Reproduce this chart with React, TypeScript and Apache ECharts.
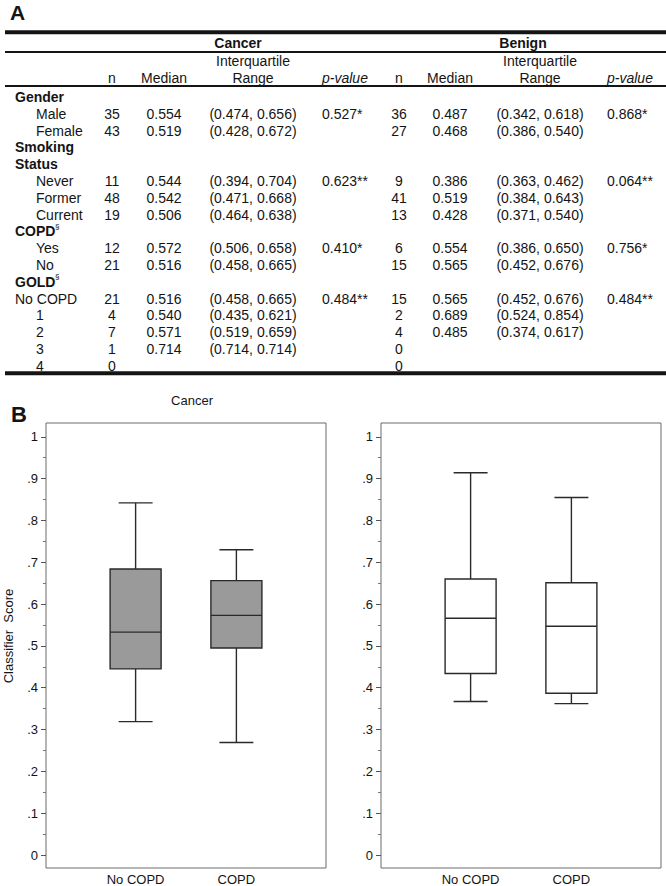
import React, { useEffect, useRef } from 'react';
import * as echarts from 'echarts';

// ---------- Table data (panel A) ----------
const rowLabels = ['Gender', 'Male', 'Female', 'Smoking', 'Status', 'Never', 'Former', 'Current', 'COPD', 'Yes', 'No', 'GOLD', 'No COPD', '1', '2', '3', '4'];
const rowKinds = ['head', 'sub', 'sub', 'head', 'head', 'sub', 'sub', 'sub', 'headsup', 'sub', 'sub', 'headsup', 'plain', 'sub', 'sub', 'sub', 'sub'];

const cancerN = ['', '35', '43', '', '', '11', '48', '19', '', '12', '21', '', '21', '4', '7', '1', '0'];
const cancerMedian = ['', '0.554', '0.519', '', '', '0.544', '0.542', '0.506', '', '0.572', '0.516', '', '0.516', '0.540', '0.571', '0.714', ''];
const cancerIQR = ['', '(0.474, 0.656)', '(0.428, 0.672)', '', '', '(0.394, 0.704)', '(0.471, 0.668)', '(0.464, 0.638)', '', '(0.506, 0.658)', '(0.458, 0.665)', '', '(0.458, 0.665)', '(0.435, 0.621)', '(0.519, 0.659)', '(0.714, 0.714)', ''];
const cancerP = ['', '0.527*', '', '', '', '0.623**', '', '', '', '0.410*', '', '', '0.484**', '', '', '', ''];

const benignN = ['', '36', '27', '', '', '9', '41', '13', '', '6', '15', '', '15', '2', '4', '0', '0'];
const benignMedian = ['', '0.487', '0.468', '', '', '0.386', '0.519', '0.428', '', '0.554', '0.565', '', '0.565', '0.689', '0.485', '', ''];
const benignIQR = ['', '(0.342, 0.618)', '(0.386, 0.540)', '', '', '(0.363, 0.462)', '(0.384, 0.643)', '(0.371, 0.540)', '', '(0.386, 0.650)', '(0.452, 0.676)', '', '(0.452, 0.676)', '(0.524, 0.854)', '(0.374, 0.617)', '', ''];
const benignP = ['', '0.868*', '', '', '', '0.064**', '', '', '', '0.756*', '', '', '0.484**', '', '', '', ''];

// ---------- Box plot data (panel B): [low, q1, median, q3, high] ----------
const boxCategories = ['No COPD', 'COPD'];
const cancerBoxes = [
  [0.319, 0.445, 0.533, 0.684, 0.842],
  [0.269, 0.495, 0.573, 0.656, 0.730],
];
const benignBoxes = [
  [0.367, 0.434, 0.566, 0.660, 0.914],
  [0.362, 0.387, 0.547, 0.651, 0.855],
];
const yMajor = [0, 0.1, 0.2, 0.3, 0.4, 0.5, 0.6, 0.7, 0.8, 0.9, 1];
const yMinor = [0.05, 0.15, 0.25, 0.35, 0.45, 0.55, 0.65, 0.75, 0.85, 0.95];

const FONT = "'Liberation Sans', Arial, Helvetica, sans-serif";
const INK = '#141414';

function txt(text: string, x: number, y: number, opts: any = {}) {
  return {
    type: 'text',
    x,
    y,
    silent: true,
    style: {
      text,
      fill: INK,
      fontFamily: FONT,
      fontSize: opts.fontSize ?? 14,
      fontWeight: opts.fontWeight ?? 'normal',
      fontStyle: opts.fontStyle ?? 'normal',
      textAlign: opts.align ?? 'left',
      textVerticalAlign: 'middle',
    },
    rotation: opts.rotation ?? 0,
  };
}

function hline(y: number, lw: number) {
  return { type: 'line', silent: true, shape: { x1: 5, y1: y, x2: 666, y2: y }, style: { stroke: INK, lineWidth: lw } };
}

function buildTable() {
  const els: any[] = [];
  els.push(txt('A', 10, 12, { fontSize: 21, fontWeight: 'bold' }));
  els.push(hline(32.3, 4));
  els.push(hline(52, 2));
  els.push(hline(86, 2));
  els.push(hline(373.3, 4));

  const cols = [
    { title: 'Cancer', titleX: 238, nX: 112, medX: 164, iqrX: 253, pX: 322, n: cancerN, med: cancerMedian, iqr: cancerIQR, p: cancerP },
    { title: 'Benign', titleX: 523, nX: 399, medX: 450, iqrX: 540, pX: 607, n: benignN, med: benignMedian, iqr: benignIQR, p: benignP },
  ];
  cols.forEach((c) => {
    els.push(txt(c.title, c.titleX, 43, { fontWeight: 'bold', align: 'center' }));
    els.push(txt('Interquartile', c.iqrX, 61, { align: 'center' }));
    els.push(txt('Range', c.iqrX, 78, { align: 'center' }));
    els.push(txt('n', c.nX, 78, { align: 'center' }));
    els.push(txt('Median', c.medX, 78, { align: 'center' }));
    els.push(txt('p-value', c.pX, 78, { fontStyle: 'italic' }));
  });

  const rowTop = 97;
  const rowH = 16.8;
  rowLabels.forEach((label, i) => {
    const y = rowTop + i * rowH;
    const kind = rowKinds[i];
    const bold = kind === 'head' || kind === 'headsup';
    const x = kind === 'sub' ? 36 : 15;
    els.push(txt(label, x, y, { fontWeight: bold ? 'bold' : 'normal' }));
    if (kind === 'headsup') {
      els.push(txt('§', 55, y - 5, { fontSize: 8 }));
    }
    cols.forEach((c) => {
      if (c.n[i]) els.push(txt(c.n[i], c.nX, y, { align: 'center' }));
      if (c.med[i]) els.push(txt(c.med[i], c.medX, y, { align: 'center' }));
      if (c.iqr[i]) els.push(txt(c.iqr[i], c.iqrX, y, { align: 'center' }));
      if (c.p[i]) els.push(txt(c.p[i], c.pX, y));
    });
  });
  return els;
}

const BOX_W = 0.506;
const CAP_W = 0.337;

function renderBox(fill: string) {
  return (params: any, api: any) => {
    const x = api.value(0);
    const lo = api.coord([x, api.value(1)]);
    const q1 = api.coord([x, api.value(2)]);
    const md = api.coord([x, api.value(3)]);
    const q3 = api.coord([x, api.value(4)]);
    const hi = api.coord([x, api.value(5)]);
    const bw = api.size([BOX_W, 0])[0];
    const cw = api.size([CAP_W, 0])[0];
    const cx = lo[0];
    const st = { stroke: '#2a2a2a', lineWidth: 1.4, fill: 'none' };
    return {
      type: 'group',
      children: [
        { type: 'line', shape: { x1: cx, y1: hi[1], x2: cx, y2: q3[1] }, style: st },
        { type: 'line', shape: { x1: cx, y1: q1[1], x2: cx, y2: lo[1] }, style: st },
        { type: 'line', shape: { x1: cx - cw / 2, y1: hi[1], x2: cx + cw / 2, y2: hi[1] }, style: st },
        { type: 'line', shape: { x1: cx - cw / 2, y1: lo[1], x2: cx + cw / 2, y2: lo[1] }, style: st },
        { type: 'rect', shape: { x: cx - bw / 2, y: q3[1], width: bw, height: q1[1] - q3[1] }, style: { stroke: '#2a2a2a', lineWidth: 1.4, fill } },
        { type: 'line', shape: { x1: cx - bw / 2, y1: md[1], x2: cx + bw / 2, y2: md[1] }, style: st },
      ],
    };
  };
}

function yFmt(v: number) {
  if (v === 0) return '0';
  if (v === 1) return '1';
  return v.toFixed(1).slice(1);
}

export default function App() {
  const ref = useRef<HTMLDivElement>(null);
  useEffect(() => {
    const chart = echarts.init(ref.current!, null, { renderer: 'svg' });
    const grids = [
      { left: 46, top: 423, width: 280, height: 446 },
      { left: 381, top: 423, width: 280, height: 446 },
    ];
    const xAxes: any[] = [];
    const yAxes: any[] = [];
    grids.forEach((g, gi) => {
      xAxes.push({
        type: 'value',
        gridIndex: gi,
        min: 0.111,
        max: 2.889,
        splitLine: { show: false },
        axisLine: { show: false },
        axisTick: { show: false },
        axisLabel: {
          customValues: [1, 2],
          formatter: (v: number) => boxCategories[Math.round(v) - 1] ?? '',
          margin: 5,
          fontSize: 13,
          color: INK,
          fontFamily: FONT,
        },
      });
      yAxes.push({
        type: 'value',
        gridIndex: gi,
        position: 'left',
        min: -0.031,
        max: 1.033,
        splitLine: { show: false },
        axisLine: { show: false },
        axisTick: { show: true, length: 5, customValues: yMajor, lineStyle: { color: '#555', width: 1 } },
        axisLabel: { customValues: yMajor, formatter: yFmt, margin: 8, fontSize: 13, color: INK, fontFamily: FONT },
      });
      yAxes.push({
        type: 'value',
        gridIndex: gi,
        position: 'left',
        offset: 0,
        min: -0.031,
        max: 1.033,
        splitLine: { show: false },
        axisLine: { show: false },
        axisTick: { show: true, length: 3, customValues: yMinor, lineStyle: { color: '#777', width: 1 } },
        axisLabel: { show: false },
      });
    });

    const option: any = {
      animation: false,
      backgroundColor: '#ffffff',
      grid: grids.map((g) => ({ ...g, show: true, borderColor: '#6a6a6a', borderWidth: 1, backgroundColor: 'transparent' })),
      xAxis: xAxes,
      yAxis: yAxes,
      series: [
        {
          type: 'custom',
          xAxisIndex: 0,
          yAxisIndex: 0,
          clip: false,
          encode: { x: 0, y: [1, 2, 3, 4, 5] },
          renderItem: renderBox('#9a9a9a'),
          data: cancerBoxes.map((b, i) => [i + 1, ...b]),
        },
        {
          type: 'custom',
          xAxisIndex: 1,
          yAxisIndex: 2,
          clip: false,
          encode: { x: 0, y: [1, 2, 3, 4, 5] },
          renderItem: renderBox('#ffffff'),
          data: benignBoxes.map((b, i) => [i + 1, ...b]),
        },
      ],
      graphic: [
        ...buildTable(),
        txt('B', 11, 414, { fontSize: 22, fontWeight: 'bold' }),
        txt('Cancer', 192, 400, { fontSize: 13, align: 'center' }),
        txt('Classifier  Score', 8, 636, { fontSize: 13, align: 'center', rotation: Math.PI / 2 }),
      ],
    };
    chart.setOption(option);
    return () => chart.dispose();
  }, []);
  return <div ref={ref} style={{ position: 'absolute', left: 0, top: 0, width: 666, height: 886, background: '#fff' }} />;
}
